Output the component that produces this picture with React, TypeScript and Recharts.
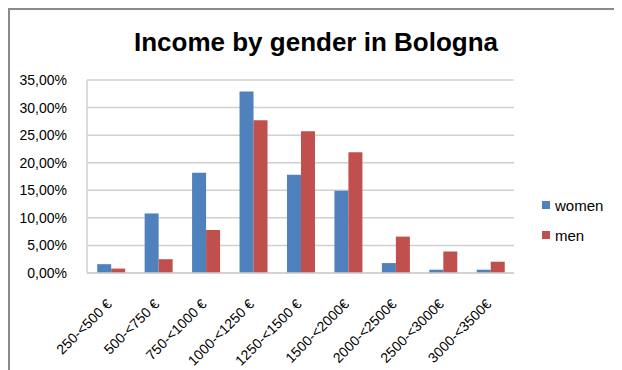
import React from "react";
import { BarChart, Bar, XAxis, YAxis, CartesianGrid } from "recharts";

const categories = [
  "250-<500 €",
  "500-<750 €",
  "750-<1000 €",
  "1000-<1250 €",
  "1250-<1500 €",
  "1500-<2000€",
  "2000-<2500€",
  "2500-<3000€",
  "3000-<3500€",
];
const women = [1.6, 10.8, 18.2, 32.9, 17.8, 14.9, 1.8, 0.6, 0.6];
const men = [0.8, 2.5, 7.8, 27.7, 25.7, 21.9, 6.6, 3.9, 2.05];
const yTicks = [0, 5, 10, 15, 20, 25, 30, 35];
const seriesNames = ["women", "men"];
const colors = ["#4F81BD", "#C0504D"];

const data = categories.map((c, i) => ({ name: c, women: women[i], men: men[i] }));

const FONT = "'Liberation Sans', Arial, sans-serif";

const fmt = (v: number) => `${v.toFixed(2).replace(".", ",")}%`;

const XTick = (props: any) => {
  const { x, y, payload } = props;
  return (
    <g transform={`translate(${x + 2},${y + 24})`}>
      <text
        x={0}
        y={0}
        textAnchor="end"
        transform="rotate(-45)"
        fontSize={14}
        fill="#000"
        fontFamily={FONT}
      >
        {payload.value}
      </text>
    </g>
  );
};

export default function App() {
  return (
    <div
      style={{
        width: 612,
        height: 360,
        borderTop: "2px solid #8a8a8a",
        borderLeft: "2px solid #8a8a8a",
        position: "relative",
        background: "#fff",
      }}
    >
      <div
        style={{
          position: "absolute",
          top: 17,
          left: 0,
          width: 612,
          textAlign: "center",
          fontFamily: FONT,
          fontWeight: "bold",
          fontSize: 26,
          color: "#000",
        }}
      >
        Income by gender in Bologna
      </div>
      <div
        style={{
          position: "absolute",
          left: 532,
          top: 180,
          fontFamily: FONT,
          fontSize: 15,
          color: "#000",
        }}
      >
        {seriesNames.map((n, i) => (
          <div key={n} style={{ display: "flex", alignItems: "center", height: 30 }}>
            <span
              style={{
                display: "inline-block",
                width: 8,
                height: 8,
                background: colors[i],
                marginRight: 5,
              }}
            />
            <span>{n}</span>
          </div>
        ))}
      </div>
      <BarChart
        width={612}
        height={360}
        data={data}
        margin={{ top: 70, right: 108, left: 0, bottom: 0 }}
        barCategoryGap="21.5%"
        barGap={0}
      >
        <CartesianGrid vertical={false} stroke="#d0d0d0" strokeWidth={1.5} />
        <XAxis
          dataKey="name"
          interval={0}
          height={97}
          tick={<XTick />}
          tickLine={false}
          axisLine={{ stroke: "#d0d0d0", strokeWidth: 1.5 }}
        />
        <YAxis
          width={77}
          domain={[0, 35]}
          ticks={yTicks}
          tickFormatter={fmt}
          tickLine={false}
          axisLine={{ stroke: "#d0d0d0", strokeWidth: 1.5 }}
          tick={{ fontSize: 14, fill: "#000", fontFamily: FONT }}
          tickMargin={14}
        />
        <Bar dataKey="women" fill={colors[0]} isAnimationActive={false} />
        <Bar dataKey="men" fill={colors[1]} isAnimationActive={false} />
      </BarChart>
    </div>
  );
}
